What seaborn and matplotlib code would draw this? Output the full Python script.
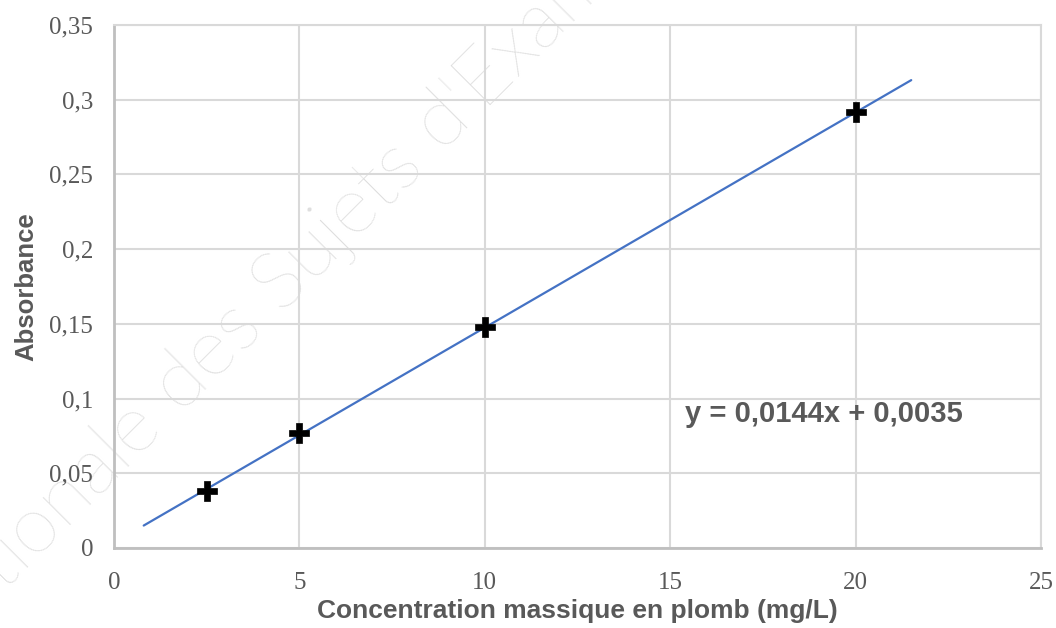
import numpy as np
import pandas as pd
import matplotlib
matplotlib.use("Agg")
import matplotlib.pyplot as plt
import seaborn as sns
from matplotlib.ticker import FuncFormatter

# Data
concentration = [2.5, 5, 10, 20]
absorbance = [0.038, 0.077, 0.148, 0.292]
slope = 0.0144
intercept = 0.0035
trend_range = [0.8, 21.5]

df = pd.DataFrame({"conc": concentration, "abs": absorbance})
trend_x = np.array(trend_range)
trend = pd.DataFrame({"conc": trend_x, "abs": slope * trend_x + intercept})

sns.set_style("white")
plt.rcParams["font.family"] = ["Liberation Sans", "DejaVu Sans"]

fig = plt.figure(figsize=(10.56, 6.28), dpi=100)
ax = fig.add_axes([0.108, 0.1274, 0.8778, 0.8328])

# watermark (behind the axes)
fig.text(-0.062, -0.054, "Nationale des Sujets d'Examen", rotation=45,
         rotation_mode="anchor", ha="left", va="baseline", fontsize=58,
         family=["Lato", "DejaVu Sans"], fontweight="light", color="#dedede",
         zorder=-1)
ax.set_facecolor("none")

sns.lineplot(data=trend, x="conc", y="abs", ax=ax, color="#4472c4",
             linewidth=1.6, zorder=3)
sns.scatterplot(data=df, x="conc", y="abs", ax=ax, marker="P", s=190,
                color="black", edgecolor="black", linewidth=0.5, zorder=4)

ax.set_xlim(0, 25)
ax.set_ylim(0, 0.35)
ax.set_xticks([0, 5, 10, 15, 20, 25])
ax.set_yticks([0, 0.05, 0.1, 0.15, 0.2, 0.25, 0.3, 0.35])
fmt = FuncFormatter(lambda v, p: f"{v:g}".replace(".", ","))
ax.xaxis.set_major_formatter(fmt)
ax.yaxis.set_major_formatter(fmt)
ax.grid(True, color="#d9d9d9", linewidth=1.5)
ax.set_axisbelow(True)
ax.tick_params(length=0, labelsize=18, labelcolor="#595959", pad=15)
ax.tick_params(axis="x", pad=17)
for lab in ax.get_xticklabels() + ax.get_yticklabels():
    lab.set_fontfamily("Liberation Serif")

for side in ["top", "right"]:
    ax.spines[side].set_color("#d9d9d9")
    ax.spines[side].set_linewidth(1.5)
for side in ["left", "bottom"]:
    ax.spines[side].set_color("#bfbfbf")
    ax.spines[side].set_linewidth(2)

ax.set_xlabel("Concentration massique en plomb (mg/L)", fontsize=19,
              fontweight="bold", color="#595959", labelpad=4)
ax.set_ylabel("Absorbance", fontsize=18.5, fontweight="bold",
              color="#595959", labelpad=8)

ax.text(15.4, 0.090, f"y = {slope:g}x + {intercept:g}".replace(".", ","),
        fontsize=21, fontweight="bold", color="#595959", ha="left",
        va="center", zorder=5)

fig.savefig("out.png", dpi=100)
